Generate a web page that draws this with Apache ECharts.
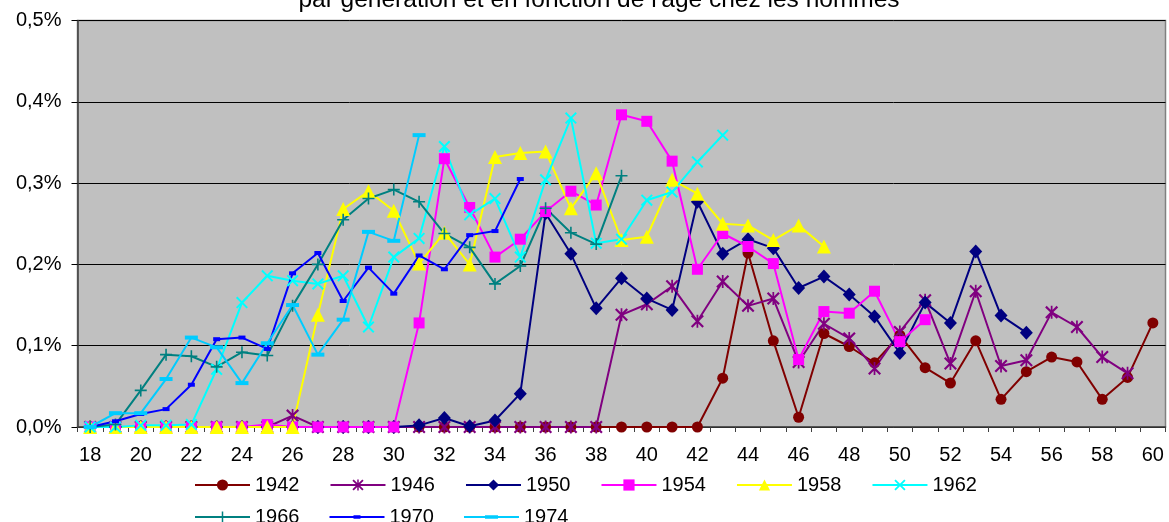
<!DOCTYPE html>
<html>
<head>
<meta charset="utf-8">
<script src="https://cdn.jsdelivr.net/npm/echarts@6/dist/echarts.min.js"></script>
<style>
html,body{margin:0;padding:0;background:#fff;}
#chart{width:1169px;height:522px;}
</style>
</head>
<body>
<div id="chart"></div>
<script>
// ---- data (values in %) ----
const ages = ['18','19','20','21','22','23','24','25','26','27','28','29','30','31','32','33','34','35','36','37','38','39','40','41','42','43','44','45','46','47','48','49','50','51','52','53','54','55','56','57','58','59','60'];
const yTicks = [0, 0.1, 0.2, 0.3, 0.4, 0.5];
const titleText = "par génération et en fonction de l'âge chez les hommes";

const s1942 = [0,0,0,0,0,0,0,0,0,0,0,0,0,0,0,0,0,0,0,0,0,0,0,0,0,
  0.060,0.214,0.106,0.012,0.115,0.099,0.079,0.113,0.073,0.054,0.106,0.034,0.068,0.086,0.080,0.034,0.061,0.128];
const s1946 = [0,0,0,0,0,0,0,0,0.014,0,0,0,0,0,0,0,0,0,0,0,0,
  0.138,0.151,0.173,0.130,0.179,0.149,0.158,0.080,0.127,0.109,0.072,0.117,0.156,0.078,0.167,0.075,0.082,0.141,0.123,0.086,0.066];
const s1950 = [0,0,0,0,0,0,0,0,0,0,0,0,0,
  0.002,0.011,0.001,0.008,0.041,0.263,0.213,0.146,0.183,0.158,0.144,0.277,0.213,0.231,0.220,0.171,0.185,0.163,0.136,0.091,0.153,0.128,0.216,0.137,0.116];
const s1954 = [0,0,0,0,0,0,0,0.003,0,0,0,0,0,
  0.128,0.330,0.270,0.209,0.231,0.265,0.290,0.273,0.384,0.376,0.327,0.194,0.238,0.222,0.201,0.083,0.142,0.140,0.167,0.105,0.132];
const s1958 = [0,0,0,0,0,0,0,0,0,
  0.138,0.268,0.290,0.266,0.201,0.239,0.200,0.332,0.337,0.339,0.269,0.312,0.230,0.234,0.304,0.287,0.250,0.248,0.230,0.248,0.222];
const s1962 = [0,0,0.002,0.002,0.003,0.071,0.153,0.186,0.180,0.176,0.186,0.123,0.209,0.232,0.345,0.261,0.281,0.209,0.304,0.380,0.226,0.231,0.279,0.289,0.326,0.359];
const s1966 = [0,0.003,0.045,0.089,0.087,0.074,0.092,0.088,0.149,0.200,0.255,0.281,0.292,0.277,0.238,0.221,0.176,0.198,0.269,0.239,0.225,0.309];
const s1970 = [0,0.007,0.016,0.022,0.052,0.108,0.110,0.096,0.189,0.214,0.155,0.196,0.164,0.211,0.194,0.236,0.241,0.305];
const s1974 = [0,0.017,0.017,0.059,0.110,0.098,0.054,0.103,0.150,0.089,0.132,0.240,0.229,0.359];

// ---- styling ----
const FONT = 'Liberation Sans, Arial, sans-serif';
const X_PATH = 'path://M-6,-4.6 L-4.6,-6 L0,-1.4 L4.6,-6 L6,-4.6 L1.4,0 L6,4.6 L4.6,6 L0,1.4 L-4.6,6 L-6,4.6 L-1.4,0 Z';
const STAR_PATH = 'path://M-6,-4.6 L-4.6,-6 L0,-1.4 L4.6,-6 L6,-4.6 L1.4,0 L6,4.6 L4.6,6 L0,1.4 L-4.6,6 L-6,4.6 L-1.4,0 Z M-0.8,-6 L0.8,-6 L0.8,6 L-0.8,6 Z';
const PLUS_PATH = 'path://M-0.8,-6 L0.8,-6 L0.8,-0.8 L6,-0.8 L6,0.8 L0.8,0.8 L0.8,6 L-0.8,6 L-0.8,0.8 L-6,0.8 L-6,-0.8 L-0.8,-0.8 Z';
// legend icons (line + short dash) in a 55x14 box
const DASH_S_ICON = 'path://M0,0 M55,14 M0,6 L55,6 L55,8 L0,8 Z M24,5.2 L31,5.2 L31,8.8 L24,8.8 Z';
const DASH_L_ICON = 'path://M0,0 M55,14 M0,6 L55,6 L55,8 L0,8 Z M21,5.2 L34,5.2 L34,8.8 L21,8.8 Z';

const defs = [
  {name:'1942', data:s1942, color:'#800000', symbol:'circle', size:11},
  {name:'1946', data:s1946, color:'#800080', symbol:STAR_PATH, size:13},
  {name:'1950', data:s1950, color:'#000080', symbol:'diamond', size:[13,14]},
  {name:'1954', data:s1954, color:'#FF00FF', symbol:'rect', size:11},
  {name:'1958', data:s1958, color:'#FFFF00', symbol:'triangle', size:14},
  {name:'1962', data:s1962, color:'#00FFFF', symbol:X_PATH, size:12},
  {name:'1966', data:s1966, color:'#008080', symbol:PLUS_PATH, size:12},
  {name:'1970', data:s1970, color:'#0000FF', symbol:'rect', size:[7,4]},
  {name:'1974', data:s1974, color:'#00CCFF', symbol:'rect', size:[13,4]}
];

const series = defs.map(d => ({
  name: d.name,
  type: 'line',
  data: d.data,
  symbol: d.symbol,
  symbolSize: d.size,
  showAllSymbol: true,
  animation: false,
  lineStyle: {color: d.color, width: 2},
  itemStyle: {color: d.color, borderWidth: 0},
  emphasis: {disabled: true}
}));

const legendCommon = {
  orient: 'horizontal',
  left: 194,
  padding: 0,
  itemWidth: 55,
  itemHeight: 14,
  itemGap: 30,
  textStyle: {fontFamily: FONT, fontSize: 20, color: '#000'},
  selectedMode: false
};

const chart = echarts.init(document.getElementById('chart'), null, {renderer: 'canvas'});
chart.setOption({
  animation: false,
  backgroundColor: '#ffffff',
  title: {
    text: titleText,
    left: 594,
    textAlign: 'center',
    top: -17,
    textStyle: {fontFamily: FONT, fontSize: 24.5, fontWeight: 'normal', color: '#000'}
  },
  legend: [
    Object.assign({}, legendCommon, {top: 475, data: ['1942','1946','1950','1954','1958','1962']}),
    Object.assign({}, legendCommon, {top: 507, data: ['1966', {name:'1970', icon: DASH_S_ICON}, {name:'1974', icon: DASH_L_ICON}]})
  ],
  grid: {
    left: 77.5, right: 3.5, top: 20.5, bottom: 95,
    show: true,
    backgroundColor: '#C0C0C0',
    borderColor: '#808080',
    borderWidth: 1.5
  },
  xAxis: {
    type: 'category',
    data: ages,
    boundaryGap: true,
    axisLine: {show: true, lineStyle: {color: '#404040', width: 1.5}},
    axisTick: {show: true, interval: 0, length: 5, lineStyle: {color: '#404040', width: 1}},
    axisLabel: {interval: 1, margin: 18, fontFamily: FONT, fontSize: 20, color: '#000'},
    splitLine: {show: false}
  },
  yAxis: {
    type: 'value',
    min: yTicks[0],
    max: yTicks[yTicks.length - 1],
    interval: 0.1,
    axisLine: {show: true, lineStyle: {color: '#404040', width: 1.5}},
    axisTick: {show: true, length: 6, lineStyle: {color: '#000', width: 1}},
    axisLabel: {
      margin: 16, fontFamily: FONT, fontSize: 20, color: '#000',
      formatter: v => v.toFixed(1).replace('.', ',') + '%'
    },
    splitLine: {show: true, lineStyle: {color: '#000', width: 1}}
  },
  series: series
});
</script>
</body>
</html>
